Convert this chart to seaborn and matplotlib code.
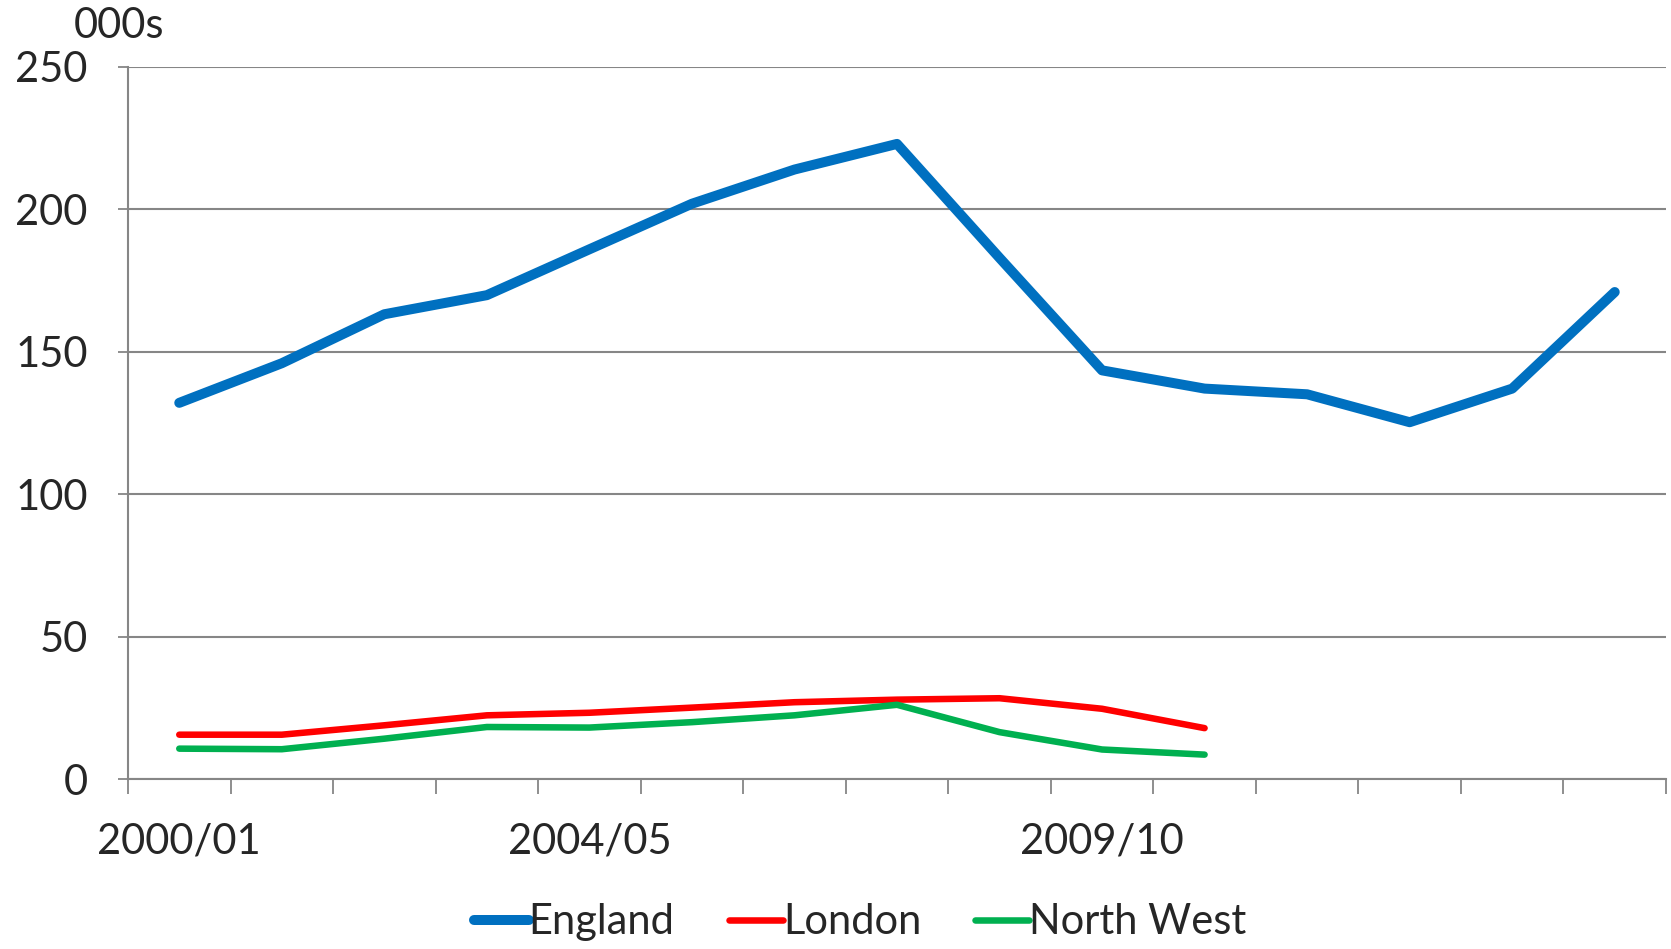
import numpy as np
import pandas as pd
import matplotlib
matplotlib.use("Agg")
import matplotlib.pyplot as plt
import seaborn as sns

years = ["2000/01", "2001/02", "2002/03", "2003/04", "2004/05", "2005/06", "2006/07",
         "2007/08", "2008/09", "2009/10", "2010/11", "2011/12", "2012/13", "2013/14", "2014/15"]
england = [132.1, 146.0, 163.2, 169.9, 186.0, 202.0, 214.0, 223.0, 183.0, 143.5,
           137.1, 135.1, 125.3, 137.1, 171.0]
london = [15.6, 15.6, 18.9, 22.4, 23.3, 25.1, 27.0, 27.9, 28.4, 24.7, 17.9]
north_west = [10.7, 10.5, 14.2, 18.3, 18.1, 20.0, 22.4, 26.1, 16.5, 10.4, 8.6]
labelled_years = ["2000/01", "2004/05", "2009/10"]
y_ticks = [0, 50, 100, 150, 200, 250]

series = {"England": england, "London": london, "North West": north_west}
colors = {"England": "#0070C0", "London": "#FF0000", "North West": "#00B050"}
widths = {"England": 7.2, "London": 4.7, "North West": 4.7}

rows = []
for name, vals in series.items():
    for i, v in enumerate(vals):
        rows.append({"series": name, "idx": i, "value": v})
df = pd.DataFrame(rows)

sns.set_theme(style="white")
plt.rcParams["font.family"] = ["Lato", "DejaVu Sans"]

fig = plt.figure(figsize=(16.71, 9.49), dpi=100)
ax = fig.add_axes([0.0766, 0.179, 0.997 - 0.0766, 0.9294 - 0.179])

for name in series:
    sub = df[df["series"] == name]
    sns.lineplot(data=sub, x="idx", y="value", ax=ax, color=colors[name],
                 linewidth=widths[name], label=name, solid_capstyle="round",
                 solid_joinstyle="round", legend=False)

grid_c = "#868686"
fs = 30
ax.set_xlim(-0.5, len(years) - 0.5)
ax.set_ylim(0, 250)
ax.set_yticks(y_ticks)
ax.set_yticklabels([str(t) for t in y_ticks])
ax.yaxis.grid(True, color=grid_c, linewidth=1.5)
ax.xaxis.grid(False)
ax.set_axisbelow(True)

for s in ["top", "right"]:
    ax.spines[s].set_visible(False)
for s in ["left", "bottom"]:
    ax.spines[s].set_color(grid_c)
    ax.spines[s].set_linewidth(1.5)

# category boundary ticks
bounds = np.arange(-0.5, len(years), 1.0)
ax.set_xticks(bounds)
ax.set_xticklabels([""] * len(bounds))
ax.tick_params(axis="x", which="major", bottom=True, length=11, width=1.3,
               color=grid_c, direction="out")
lab_pos = [years.index(y) for y in labelled_years]
ax.set_xticks(lab_pos, minor=True)
ax.set_xticklabels(labelled_years, minor=True)
ax.tick_params(axis="x", which="minor", bottom=True, length=0, pad=31, labelsize=fs)
ax.tick_params(axis="y", left=True, length=7, width=1.3, color=grid_c,
               direction="out", pad=22, labelsize=fs)
ax.set_xlabel("")
ax.set_ylabel("")

fig.text(0.044, 0.973, "000s", fontsize=fs, ha="left", va="center")

for line in ax.get_lines():
    line.set_solid_capstyle("round")

handles, labels = ax.get_legend_handles_labels()
leg = fig.legend(handles, labels, loc="center", bbox_to_anchor=(0.515, 0.028), ncol=3,
                 frameon=False, fontsize=fs, handlelength=1.3, handletextpad=0.0,
                 columnspacing=1.3)
for h in leg.get_lines():
    h.set_solid_capstyle("round")

fig.savefig("out.png", dpi=100)
